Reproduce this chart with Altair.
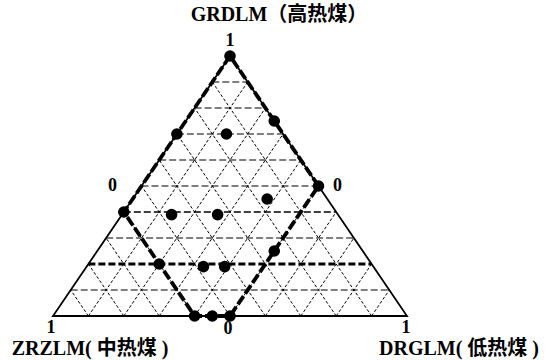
import altair as alt
import pandas as pd

# Sample compositions (fractions of GRDLM, ZRZLM, DRGLM)
g_vals = [1.00, 0.70, 0.75, 0.70, 0.40, 0.50, 0.39, 0.39, 0.45, 0.20, 0.19, 0.19, 0.25, 0.00, 0.00, 0.00]
z_vals = [0.00, 0.30, 0.00, 0.16, 0.60, 0.00, 0.47, 0.34, 0.17, 0.60, 0.48, 0.42, 0.25, 0.60, 0.55, 0.50]
d_vals = [0.00, 0.00, 0.25, 0.14, 0.00, 0.50, 0.14, 0.27, 0.38, 0.20, 0.33, 0.39, 0.50, 0.40, 0.45, 0.50]

# Outline of the sample region (g, d), closed
region_g = [1.00, 0.40, 0.00, 0.00, 0.50, 1.00]
region_d = [0.00, 0.00, 0.40, 0.50, 0.50, 0.00]

grid_levels = [0.1, 0.2, 0.3, 0.4, 0.5, 0.6, 0.7, 0.8, 0.9]

# Corner / edge labels: (g, d, text)
tick_g = [1.0, 0.0, 0.0, 0.0, 0.5, 0.5]
tick_d = [0.0, 0.0, 1.0, 0.5, 0.0, 0.5]
tick_text = ["1", "1", "1", "0", "0", "0"]

axis_names = ["GRDLM（高热煤）", "ZRZLM( 中热煤 )", "DRGLM( 低热煤 )"]


def to_xy(g, d):
    return d + g / 2.0, g


W, H = 354, 260
LEFT, TOP = 53, 56
X = alt.Scale(domain=[0, 1], range=[0, W])
Y = alt.Scale(domain=[0, 1])

# ---- grid segments ----
rows = []
for k in grid_levels:
    # constant GRDLM (horizontal)
    x1, y1 = to_xy(k, 0.0)
    x2, y2 = to_xy(k, 1 - k)
    rows.append(dict(x=x1, y=y1, x2=x2, y2=y2, kind="h", w=2.8 if abs(k - 0.2) < 1e-9 else (1.6 if abs(k - 0.4) < 1e-9 else 1.1)))
    # constant DRGLM
    x1, y1 = to_xy(0.0, k)
    x2, y2 = to_xy(1 - k, k)
    rows.append(dict(x=x1, y=y1, x2=x2, y2=y2, kind="s", w=1.0))
    # constant ZRZLM
    x1, y1 = to_xy(0.0, 1 - k)
    x2, y2 = to_xy(1 - k, 0.0)
    rows.append(dict(x=x1, y=y1, x2=x2, y2=y2, kind="s", w=1.0))
grid = pd.DataFrame(rows)

hgrid = alt.Chart(grid[grid.kind == "h"]).mark_rule(
    color="#000", strokeDash=[7, 3]
).encode(
    x=alt.X("x:Q", scale=X, axis=None), y=alt.Y("y:Q", scale=Y, axis=None),
    x2="x2:Q", y2="y2:Q", strokeWidth=alt.StrokeWidth("w:Q", scale=None),
)
sgrid = alt.Chart(grid[grid.kind == "s"]).mark_rule(
    color="#000", strokeDash=[3, 2], strokeWidth=1.0
).encode(
    x=alt.X("x:Q", scale=X, axis=None), y=alt.Y("y:Q", scale=Y, axis=None),
    x2="x2:Q", y2="y2:Q",
)

# ---- triangle frame ----
corners = [(1.0, 0.0), (0.0, 0.0), (0.0, 1.0), (1.0, 0.0)]
frame = pd.DataFrame(
    [dict(o=i, x=to_xy(g, d)[0], y=to_xy(g, d)[1]) for i, (g, d) in enumerate(corners)]
)
frame_line = alt.Chart(frame).mark_line(color="#000", strokeWidth=1.8).encode(
    x=alt.X("x:Q", scale=X, axis=None), y=alt.Y("y:Q", scale=Y, axis=None), order="o:O"
)

# ---- sample region outline ----
region = pd.DataFrame(
    [dict(o=i, x=to_xy(g, d)[0], y=to_xy(g, d)[1]) for i, (g, d) in enumerate(zip(region_g, region_d))]
)
region_line = alt.Chart(region).mark_line(
    color="#000", strokeWidth=3.8, strokeDash=[10, 3]
).encode(
    x=alt.X("x:Q", scale=X, axis=None), y=alt.Y("y:Q", scale=Y, axis=None), order="o:O"
)

# ---- sample points ----
pts = pd.DataFrame(dict(g=g_vals, z=z_vals, d=d_vals))
pts["x"] = pts.d + pts.g / 2
pts["y"] = pts.g
points = alt.Chart(pts).mark_point(
    filled=True, color="#000", opacity=1, size=135, shape="circle"
).encode(
    x=alt.X("x:Q", scale=X, axis=None), y=alt.Y("y:Q", scale=Y, axis=None)
)

# ---- labels ----
font = "Liberation Serif, Noto Sans CJK SC"
ticks = pd.DataFrame(dict(g=tick_g, d=tick_d, t=tick_text))
ticks["x"] = ticks.d + ticks.g / 2
ticks["y"] = ticks.g
ticks["dx"] = [0, -2, -1, -2, -29, 19]
ticks["dy"] = [-15, 12, 12, 13, 0, 0]
tick_layers = []
for _, r in ticks.iterrows():
    tick_layers.append(
        alt.Chart(pd.DataFrame([r])).mark_text(
            font=font, fontSize=18, fontWeight="bold", color="#000",
            dx=float(r.dx), dy=float(r.dy), baseline="middle", align="center",
        ).encode(x=alt.X("x:Q", scale=X, axis=None), y=alt.Y("y:Q", scale=Y, axis=None), text="t:N")
    )

names = pd.DataFrame(dict(
    t=axis_names,
    x=[0.5, 0.0, 1.0],
    y=[1.0, 0.0, 0.0],
    dx=[49.0, 37.0, 52.0],
    dy=[-41.0, 33.0, 33.0],
))
name_layers = []
for _, r in names.iterrows():
    name_layers.append(
        alt.Chart(pd.DataFrame([r])).mark_text(
            font=font, fontSize=20, fontWeight="bold", color="#000",
            dx=float(r.dx), dy=float(r.dy), baseline="middle", align="center",
        ).encode(x=alt.X("x:Q", scale=X, axis=None), y=alt.Y("y:Q", scale=Y, axis=None), text="t:N")
    )

chart = alt.layer(
    hgrid, sgrid, frame_line, region_line, points, *tick_layers, *name_layers
).properties(
    width=W, height=H,
    autosize=alt.AutoSizeParams(type="none"),
    padding={"left": LEFT, "top": TOP, "right": 546 - LEFT - W, "bottom": 360 - TOP - H},
    background="white",
).configure_view(stroke=None)

chart.save("out.html", embed_options={"renderer": "svg", "actions": False})
